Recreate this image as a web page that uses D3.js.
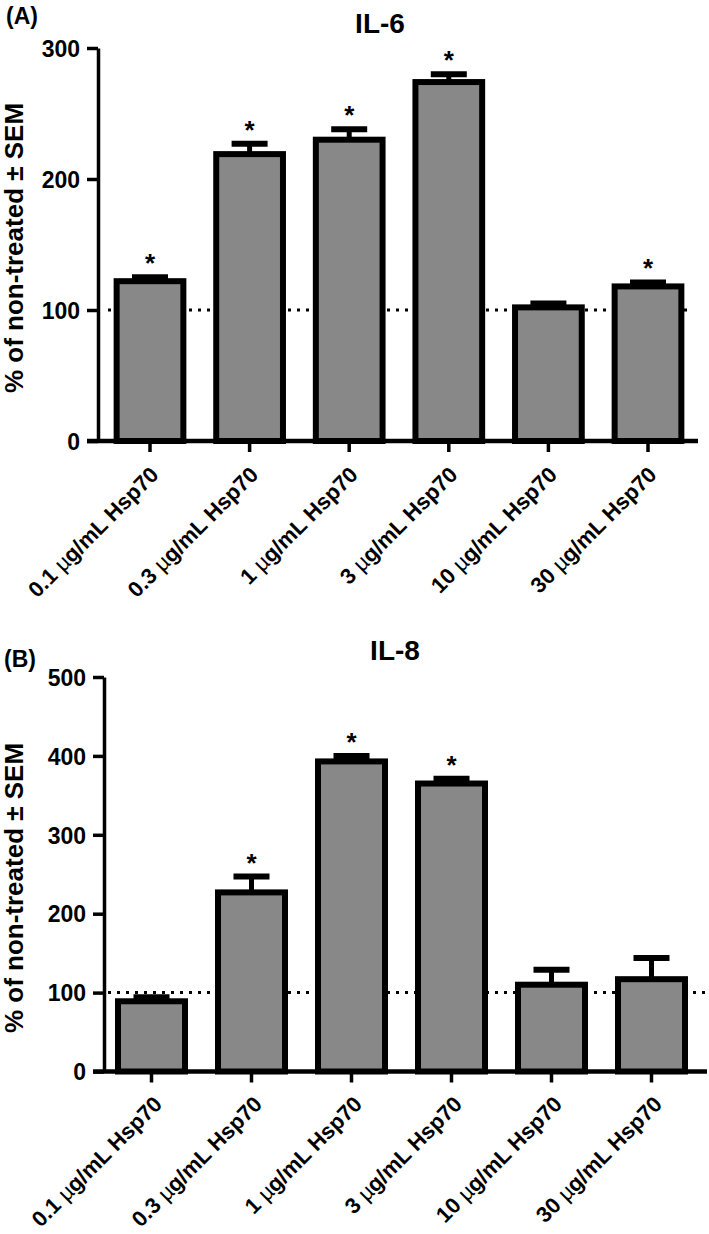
<!DOCTYPE html>
<html><head><meta charset="utf-8">
<script src="https://cdn.jsdelivr.net/npm/d3@7"></script>
<style>
body{margin:0;background:#fff}
text{font-family:"Liberation Sans",Arial,Helvetica,sans-serif;font-weight:bold;fill:#000}
</style>
</head><body>
<svg id="c" width="709" height="1234"></svg>
<script>
// ---- data ----
const doses = ["0.1", "0.3", "1", "3", "10", "30"];
const il6Mean = [122, 219, 230, 274, 102, 118];
const il6Sem  = [3, 8, 8, 6, 3, 3];
const il6Sig  = [true, true, true, true, false, true];
const il8Mean = [89, 227, 393, 365, 110, 117];
const il8Sem  = [5, 20, 7, 6, 19, 27];
const il8Sig  = [false, true, true, true, false, false];
const il6Ticks = [0, 100, 200, 300];
const il8Ticks = [0, 100, 200, 300, 400, 500];
const yTitle = "% of non-treated \u00B1 SEM";

const svg = d3.select("#c");

function panel(o) {
  const g = svg.append("g");
  const y = d3.scaleLinear().domain([0, o.yMax]).range([o.y0, o.yTop]);
  const step = o.step;
  const x = d3.scaleBand().domain(doses)
    .range([o.c0 - step / 2, o.c0 + step * 5.5])
    .paddingInner(0.33).paddingOuter(0.165);
  const bw = x.bandwidth();
  const data = doses.map((d, i) => ({d, m: o.mean[i], s: o.sem[i], sig: o.sig[i]}));

  // reference dotted line at 100
  g.append("line")
    .attr("x1", o.dotX1).attr("x2", o.dotX2)
    .attr("y1", y(100)).attr("y2", y(100))
    .attr("stroke", "#000").attr("stroke-width", 3)
    .attr("stroke-dasharray", "3,6");

  // bars
  g.selectAll("rect.bar").data(data).join("rect")
    .attr("class", "bar")
    .attr("x", d => x(d.d)).attr("width", bw)
    .attr("y", d => y(d.m)).attr("height", d => y(0) - y(d.m))
    .attr("fill", "#888888").attr("stroke", "#000").attr("stroke-width", 6);

  // error bars (upper)
  g.selectAll("line.ev").data(data).join("line")
    .attr("class", "ev")
    .attr("x1", d => x(d.d) + bw / 2).attr("x2", d => x(d.d) + bw / 2)
    .attr("y1", d => y(d.m)).attr("y2", d => y(d.m + d.s))
    .attr("stroke", "#000").attr("stroke-width", 5);
  g.selectAll("line.ec").data(data).join("line")
    .attr("class", "ec")
    .attr("x1", d => x(d.d) + bw / 2 - 18).attr("x2", d => x(d.d) + bw / 2 + 18)
    .attr("y1", d => y(d.m + d.s)).attr("y2", d => y(d.m + d.s))
    .attr("stroke", "#000").attr("stroke-width", 6);

  // significance stars
  g.selectAll("text.star").data(data.filter(d => d.sig)).join("text")
    .attr("class", "star")
    .attr("x", d => x(d.d) + bw / 2).attr("y", d => y(d.m + d.s) - 5)
    .attr("text-anchor", "middle").attr("font-size", 26)
    .text("*");

  // y axis
  const ya = g.append("g").attr("transform", `translate(${o.axX},0)`)
    .call(d3.axisLeft(y).tickValues(o.ticks).tickSize(11).tickSizeOuter(0).tickPadding(7).tickFormat(d3.format("d")));
  ya.select(".domain").attr("stroke-width", 3.5);
  ya.selectAll(".tick line").attr("stroke-width", 3.5);
  ya.selectAll(".tick text").attr("font-size", 23).attr("dy", "0.36em")
    .style("font-family", '"Liberation Sans",Arial,sans-serif').style("font-weight", "bold");

  // x axis
  const xa = g.append("g").attr("transform", `translate(0,${o.y0})`)
    .call(d3.axisBottom(x).tickSize(11).tickSizeOuter(0));
  xa.select(".domain").remove();
  xa.selectAll(".tick line").attr("stroke-width", 3.5);
  xa.selectAll(".tick text")
    .attr("x", 0).attr("y", 0).attr("dy", 0)
    .attr("text-anchor", "end")
    .attr("transform", `translate(${o.lblDx},${o.lblDy}) rotate(-45)`)
    .attr("font-size", 22)
    .style("font-family", '"Liberation Sans",Arial,sans-serif').style("font-weight", "bold")
    .each(function(d) {
      const t = d3.select(this);
      t.text(null);
      t.append("tspan").text(d + " ");
      t.append("tspan").style("font-weight", "normal").text("\u00B5");
      t.append("tspan").text("g/mL Hsp70");
    });
  g.append("line")
    .attr("x1", o.axX - 11).attr("x2", o.xEnd)
    .attr("y1", o.y0).attr("y2", o.y0)
    .attr("stroke", "#000").attr("stroke-width", 4.5);

  // y title
  g.append("text")
    .attr("transform", `translate(${o.ytX},${o.ytY}) rotate(-90)`)
    .attr("text-anchor", "middle").attr("font-size", 26)
    .text(yTitle);

  // panel title and letter
  g.append("text").attr("x", o.titleX).attr("y", o.titleY)
    .attr("text-anchor", "middle").attr("font-size", 28).text(o.title);
  g.append("text").attr("x", o.letX).attr("y", o.letY)
    .attr("font-size", 23).text(o.letter);
}

panel({
  mean: il6Mean, sem: il6Sem, sig: il6Sig, ticks: il6Ticks, yMax: 300,
  y0: 441, yTop: 48, c0: 150, step: 99.6, axX: 98, xEnd: 698,
  dotX1: 108, dotX2: 692, lblDx: 10, lblDy: 35,
  ytX: 23, ytY: 248, title: "IL-6", titleX: 380, titleY: 33,
  letter: "(A)", letX: 6, letY: 24
});
panel({
  mean: il8Mean, sem: il8Sem, sig: il8Sig, ticks: il8Ticks, yMax: 500,
  y0: 1071.5, yTop: 677, c0: 151.5, step: 100, axX: 104, xEnd: 707,
  dotX1: 108, dotX2: 708, lblDx: 12, lblDy: 34,
  ytX: 23, ytY: 888, title: "IL-8", titleX: 395, titleY: 660,
  letter: "(B)", letX: 4, letY: 667
});
</script>
</body></html>
